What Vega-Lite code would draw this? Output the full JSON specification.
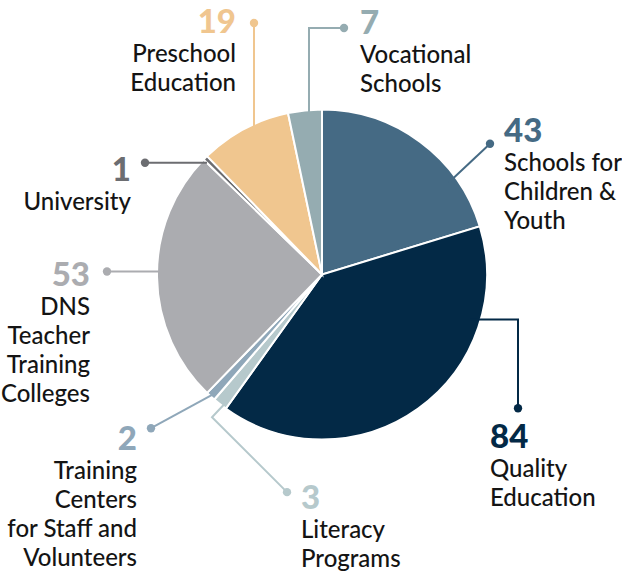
{
  "$schema": "https://vega.github.io/schema/vega-lite/v6.json",
  "width": 622,
  "height": 572,
  "padding": 0,
  "autosize": {"type": "fit", "contains": "padding"},
  "background": "white",
  "config": {"view": {"stroke": null}, "text": {"font": "Lato"}},
  "datasets": {
    "slices": [
      {"category": "Schools for Children & Youth", "value": 43, "lines": ["Schools for", "Children &", "Youth"]},
      {"category": "Quality Education", "value": 84, "lines": ["Quality", "Education"]},
      {"category": "Literacy Programs", "value": 3, "lines": ["Literacy", "Programs"]},
      {"category": "Training Centers for Staff and Volunteers", "value": 2, "lines": ["Training", "Centers", "for Staff and", "Volunteers"]},
      {"category": "DNS Teacher Training Colleges", "value": 53, "lines": ["DNS", "Teacher", "Training", "Colleges"]},
      {"category": "University", "value": 1, "lines": ["University"]},
      {"category": "Preschool Education", "value": 19, "lines": ["Preschool", "Education"]},
      {"category": "Vocational Schools", "value": 7, "lines": ["Vocational", "Schools"]}
    ],
    "leaders": [
      {"category": "Preschool Education", "step": 0, "x": -41.21, "y": 152.73},
      {"category": "Preschool Education", "step": 1, "x": -41.21, "y": 86.67},
      {"category": "Vocational Schools", "step": 0, "x": 13.33, "y": 149.7},
      {"category": "Vocational Schools", "step": 1, "x": -7.88, "y": 149.7},
      {"category": "Vocational Schools", "step": 2, "x": -7.88, "y": 93.94},
      {"category": "Schools for Children & Youth", "step": 0, "x": 101.82, "y": 79.39},
      {"category": "Schools for Children & Youth", "step": 1, "x": 76.97, "y": 56.06},
      {"category": "Quality Education", "step": 0, "x": 118.79, "y": -81.21},
      {"category": "Quality Education", "step": 1, "x": 118.79, "y": -27.27},
      {"category": "Quality Education", "step": 2, "x": 89.7, "y": -27.27},
      {"category": "Literacy Programs", "step": 0, "x": -21.21, "y": -132.12},
      {"category": "Literacy Programs", "step": 1, "x": -66.67, "y": -86.67},
      {"category": "Literacy Programs", "step": 2, "x": -56.97, "y": -76.36},
      {"category": "Training Centers for Staff and Volunteers", "step": 0, "x": -103.64, "y": -93.33},
      {"category": "Training Centers for Staff and Volunteers", "step": 1, "x": -66.06, "y": -72.73},
      {"category": "DNS Teacher Training Colleges", "step": 0, "x": -130.3, "y": 1.82},
      {"category": "DNS Teacher Training Colleges", "step": 1, "x": -92.12, "y": 1.82},
      {"category": "University", "step": 0, "x": -107.27, "y": 67.88},
      {"category": "University", "step": 1, "x": -69.7, "y": 67.88}
    ],
    "anchors": [
      {"category": "Preschool Education", "x": -52.12, "y": 146.67},
      {"category": "Vocational Schools", "x": 23.03, "y": 146.06},
      {"category": "Schools for Children & Youth", "x": 110.3, "y": 80.61},
      {"category": "Quality Education", "x": 101.82, "y": -105.45},
      {"category": "Literacy Programs", "x": -12.73, "y": -142.42},
      {"category": "Training Centers for Staff and Volunteers", "x": -112.12, "y": -106.67},
      {"category": "DNS Teacher Training Colleges", "x": -140.61, "y": -6.67},
      {"category": "University", "x": -115.76, "y": 56.97}
    ]
  },
  "encoding": {
    "color": {
      "field": "category",
      "type": "nominal",
      "legend": null,
      "scale": {
        "domain": ["Schools for Children & Youth", "Quality Education", "Literacy Programs", "Training Centers for Staff and Volunteers", "DNS Teacher Training Colleges", "University", "Preschool Education", "Vocational Schools"],
        "range": ["#456a84", "#032946", "#b6c9cc", "#8fa7b9", "#abacb0", "#6c6d71", "#f0c68f", "#95acb1"]
      }
    }
  },
  "layer": [
    {
      "data": {"name": "slices"},
      "transform": [{"window": [{"op": "row_number", "as": "idx"}]}],
      "mark": {"type": "arc", "outerRadius": 165, "stroke": "white", "strokeWidth": 2},
      "encoding": {
        "theta": {"field": "value", "type": "quantitative", "stack": true},
        "order": {"field": "idx", "type": "quantitative"},
        "x": {"datum": 0, "type": "quantitative", "scale": {"domain": [-195.15, 181.82], "nice": false, "zero": false}, "axis": null},
        "y": {"datum": 0, "type": "quantitative", "scale": {"domain": [-180, 166.67], "nice": false, "zero": false}, "axis": null}
      }
    },
    {
      "data": {"name": "leaders"},
      "mark": {"type": "line", "strokeWidth": 2, "strokeJoin": "miter", "strokeCap": "butt"},
      "encoding": {
        "x": {"field": "x", "type": "quantitative"},
        "y": {"field": "y", "type": "quantitative"},
        "order": {"field": "step", "type": "quantitative"}
      }
    },
    {
      "data": {"name": "leaders"},
      "transform": [{"filter": "datum.step == 0"}],
      "mark": {"type": "point", "filled": true, "opacity": 1, "size": 70},
      "encoding": {
        "x": {"field": "x", "type": "quantitative"},
        "y": {"field": "y", "type": "quantitative"}
      }
    },
    {
      "data": {"name": "anchors"},
      "transform": [
        {"lookup": "category", "from": {"data": {"name": "slices"}, "key": "category", "fields": ["value", "lines"]}},
        {"filter": {"field": "category", "oneOf": ["Preschool Education", "Training Centers for Staff and Volunteers", "DNS Teacher Training Colleges", "University"]}}
      ],
      "layer": [
        {
          "mark": {"type": "text", "align": "right", "baseline": "alphabetic", "fontSize": 33, "fontWeight": 900, "font": "Lato Black, Lato"},
          "encoding": {
            "x": {"field": "x", "type": "quantitative"},
            "y": {"field": "y", "type": "quantitative"},
            "text": {"field": "value", "type": "quantitative"}
          }
        },
        {
          "mark": {"type": "text", "align": "right", "baseline": "alphabetic", "fontSize": 24, "fontWeight": 500, "lineHeight": 29, "dy": 29},
          "encoding": {
            "x": {"field": "x", "type": "quantitative"},
            "y": {"field": "y", "type": "quantitative"},
            "text": {"field": "lines"},
            "color": {"value": "#141414"}
          }
        }
      ]
    },
    {
      "data": {"name": "anchors"},
      "transform": [
        {"lookup": "category", "from": {"data": {"name": "slices"}, "key": "category", "fields": ["value", "lines"]}},
        {"filter": {"field": "category", "oneOf": ["Vocational Schools", "Schools for Children & Youth", "Quality Education", "Literacy Programs"]}}
      ],
      "layer": [
        {
          "mark": {"type": "text", "align": "left", "baseline": "alphabetic", "fontSize": 33, "fontWeight": 900, "font": "Lato Black, Lato"},
          "encoding": {
            "x": {"field": "x", "type": "quantitative"},
            "y": {"field": "y", "type": "quantitative"},
            "text": {"field": "value", "type": "quantitative"}
          }
        },
        {
          "mark": {"type": "text", "align": "left", "baseline": "alphabetic", "fontSize": 24, "fontWeight": 500, "lineHeight": 29, "dy": 29},
          "encoding": {
            "x": {"field": "x", "type": "quantitative"},
            "y": {"field": "y", "type": "quantitative"},
            "text": {"field": "lines"},
            "color": {"value": "#141414"}
          }
        }
      ]
    }
  ]
}
